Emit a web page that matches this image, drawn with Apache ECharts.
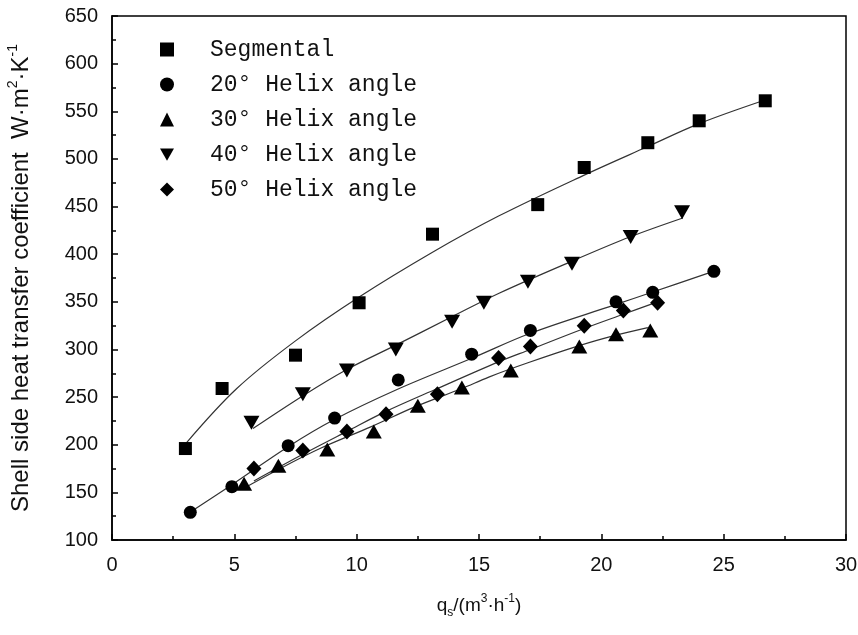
<!DOCTYPE html>
<html>
<head>
<meta charset="utf-8">
<title>Shell side heat transfer coefficient</title>
<script src="https://cdn.jsdelivr.net/npm/echarts@6/dist/echarts.min.js"></script>
<style>
  html, body { margin: 0; padding: 0; background: #fff; }
  #chart { width: 858px; height: 635px; }
</style>
</head>
<body>
<div id="chart"></div>
<script>
// Measured points: flow rate q_s (m3/h) and heat transfer coefficient h (W·m-2·K-1)
const qSegmental = [3.0, 4.5, 7.5, 10.1, 13.1, 17.4, 19.3, 21.9, 24.0, 26.7];
const hSegmental = [196, 259, 294, 349, 421, 452, 491, 517, 540, 561];
const q20 = [3.2, 4.9, 7.2, 9.1, 11.7, 14.7, 17.1, 20.6, 22.1, 24.6];
const h20 = [129, 156, 199, 228, 268, 295, 320, 350, 360, 382];
const q30 = [5.4, 6.8, 8.8, 10.7, 12.5, 14.3, 16.3, 19.1, 20.6, 22.0];
const h30 = [159, 178, 195, 214, 241, 260, 278, 303, 316, 320];
const q40 = [5.7, 7.8, 9.6, 11.6, 13.9, 15.2, 17.0, 18.8, 21.2, 23.3];
const h40 = [223, 253, 278, 300, 329, 349, 371, 390, 418, 444];
const q50 = [5.8, 7.8, 9.6, 11.2, 13.3, 15.8, 17.1, 19.3, 20.9, 22.3];
const h50 = [175, 194, 214, 232, 253, 291, 303, 325, 341, 349];

// Fitted trend curves
const qFitSegmental = [3.04, 5.1, 7.5, 10.1, 13.1, 15.8, 19.3, 21.9, 24.0, 26.6];
const hFitSegmental = [202, 259, 309, 355, 402, 440, 483, 513, 537, 561];
const qFit20 = [3.3, 4.9, 7.2, 9.05, 11.65, 14.73, 17.1, 20.57, 22.07, 24.58];
const hFit20 = [131, 158, 198, 226, 258, 291, 317, 347, 360, 382];
const qFit30 = [5.3, 6.8, 8.5, 10.6, 12.4, 14.3, 15.4, 17.0, 19.1, 20.6, 21.9];
const hFit30 = [153, 174, 196, 219, 240, 259, 271, 286, 304, 315, 323];
const qFit40 = [5.76, 7.84, 9.6, 11.56, 13.87, 15.82, 18.83, 21.16, 23.33];
const hFit40 = [217, 252, 279, 304, 334, 359, 393, 418, 438];
const qFit50 = [5.8, 7.8, 9.6, 11.2, 13.3, 15.8, 17.1, 19.3, 20.9, 22.3];
const hFit50 = [162, 190, 214, 235, 259, 287, 300, 322, 337, 350];

const seriesNames = ['Segmental', '20° Helix angle', '30° Helix angle', '40° Helix angle', '50° Helix angle'];

const xMin = 0, xMax = 30, xStep = 5;
const yMin = 100, yMax = 650, yStep = 50;

function pairs(xs, ys) {
  return xs.map((x, i) => [x, ys[i]]);
}

const INK = '#000';
const downTriangle = 'path://M0,0L16,0L8,14Z';

const markerSpecs = [
  { symbol: 'rect', size: [13, 13] },
  { symbol: 'circle', size: 13 },
  { symbol: 'triangle', size: [16, 14] },
  { symbol: downTriangle, size: [16, 14] },
  { symbol: 'diamond', size: [15, 16] }
];

const pointSets = [
  pairs(qSegmental, hSegmental),
  pairs(q20, h20),
  pairs(q30, h30),
  pairs(q40, h40),
  pairs(q50, h50)
];
const fitSets = [
  pairs(qFitSegmental, hFitSegmental),
  pairs(qFit20, hFit20),
  pairs(qFit30, hFit30),
  pairs(qFit40, hFit40),
  pairs(qFit50, hFit50)
];

const series = [];
fitSets.forEach((d, i) => {
  series.push({
    name: seriesNames[i] + ' fit',
    type: 'line',
    data: d,
    smooth: 0.35,
    showSymbol: false,
    symbol: 'none',
    lineStyle: { color: '#333', width: 1.2 },
    silent: true,
    z: 1
  });
});
pointSets.forEach((d, i) => {
  series.push({
    name: seriesNames[i],
    type: 'scatter',
    data: d,
    symbol: markerSpecs[i].symbol,
    symbolSize: markerSpecs[i].size,
    itemStyle: { color: INK, opacity: 1 },
    z: 3
  });
});

const axisFont = 'Liberation Sans, Arial, sans-serif';

const chart = echarts.init(document.getElementById('chart'), null, { renderer: 'canvas' });
chart.setOption({
  animation: false,
  backgroundColor: '#fff',
  grid: {
    left: 112, right: 12, top: 16, bottom: 95,
    outerBoundsMode: 'none',
    containLabel: false,
    show: true, borderColor: INK, borderWidth: 1.5, backgroundColor: 'transparent'
  },
  legend: {
    orient: 'vertical',
    left: 155, top: 33,
    itemWidth: 14, itemHeight: 14, itemGap: 12,
    data: seriesNames,
    textStyle: {
      fontFamily: 'Liberation Mono, monospace', fontSize: 23, color: '#111',
      padding: [0, 0, 0, 31]
    },
    selectedMode: false
  },
  xAxis: {
    type: 'value',
    min: xMin, max: xMax, interval: xStep,
    name: '{n|q}{sub|s}{n|/(m}{sup|3}{n|·h}{sup|-1}{n|)}',
    nameLocation: 'middle',
    nameGap: 53,
    nameTextStyle: {
      rich: {
        n: { fontFamily: axisFont, fontSize: 19, color: '#111', lineHeight: 26, verticalAlign: 'middle' },
        sub: { fontFamily: axisFont, fontSize: 12, color: '#111', lineHeight: 26, verticalAlign: 'bottom' },
        sup: { fontFamily: axisFont, fontSize: 12, color: '#111', lineHeight: 26, verticalAlign: 'top' }
      }
    },
    axisLine: { show: true, onZero: false, lineStyle: { color: INK, width: 1.5 } },
    axisTick: { show: true, inside: true, length: 6, lineStyle: { color: INK, width: 1.5 } },
    minorTick: { show: true, splitNumber: 2, length: 4, lineStyle: { color: INK, width: 1.5 } },
    splitLine: { show: false },
    axisLabel: { fontFamily: axisFont, fontSize: 20, color: '#111', margin: 15 }
  },
  yAxis: {
    type: 'value',
    min: yMin, max: yMax, interval: yStep,
    name: '{n|Shell side heat transfer coefficient  W·m}{sup|2}{n|·K}{sup|-1}',
    nameLocation: 'middle',
    nameGap: 76,
    nameRotate: 90,
    nameTextStyle: {
      rich: {
        n: { fontFamily: axisFont, fontSize: 24, color: '#111', lineHeight: 30, verticalAlign: 'middle' },
        sup: { fontFamily: axisFont, fontSize: 14, color: '#111', lineHeight: 30, verticalAlign: 'top' }
      }
    },
    axisLine: { show: true, onZero: false, lineStyle: { color: INK, width: 1.5 } },
    axisTick: { show: true, inside: true, length: 6, lineStyle: { color: INK, width: 1.5 } },
    minorTick: { show: true, splitNumber: 2, length: 4, lineStyle: { color: INK, width: 1.5 } },
    splitLine: { show: false },
    axisLabel: { fontFamily: axisFont, fontSize: 20, color: '#111', margin: 14 }
  },
  series: series
});
</script>
</body>
</html>
